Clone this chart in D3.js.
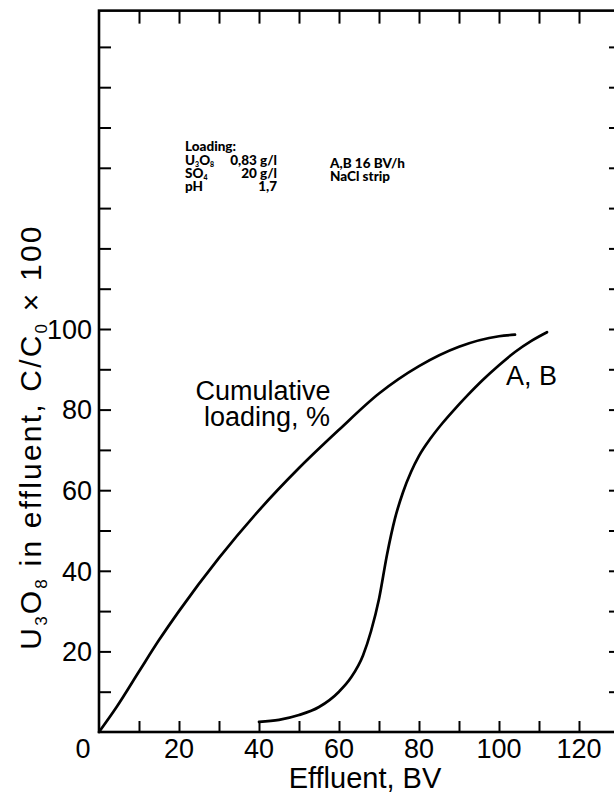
<!DOCTYPE html>
<html>
<head>
<meta charset="utf-8">
<script src="https://cdn.jsdelivr.net/npm/d3@7"></script>
<style>
  html, body { margin: 0; padding: 0; background: #fff; }
  svg { display: block; }
</style>
</head>
<body>
<svg id="chart" width="614" height="798"></svg>
<script>
// Cumulative loading, % versus effluent volume (BV)
const cumulativeBV  = [0, 4.4, 10, 15, 20, 30, 40, 50, 60, 70, 80, 90, 100, 104];
const cumulativePct = [0, 6.2, 15, 22.8, 30, 43.2, 55, 65.5, 75, 84, 90.8, 95.6, 98.2, 98.6];

// U3O8 breakthrough, columns A and B (C/C0 x 100)
const breakthroughBV  = [40, 45, 50, 55, 60, 63, 66, 68, 70, 72, 74, 76, 78, 80, 83, 86, 89, 92, 96, 100, 104, 108, 112];
const breakthroughPct = [2.5, 3, 4.2, 6.2, 10, 13.5, 19, 25, 33, 44, 53, 59.5, 64.5, 68.5, 73, 76.8, 80.2, 83.4, 87.4, 91, 94.3, 97, 99.2];

// Axis ticks and labels
const xTickLabels = [0, 20, 40, 60, 80, 100, 120];
const yTickLabels = [20, 40, 60, 80, 100];
const xMinorTicks = [10, 20, 30, 40, 50, 60, 70, 80, 90, 100, 110, 120, 130];
const yMinorTicks = [10, 20, 30, 40, 50, 60, 70, 80, 90, 100, 110, 120, 130, 140, 150, 160, 170];

const xDomain = [0, 130];
const yDomain = [0, 179];

const svg = d3.select("#chart");
const font = "'Liberation Sans', Arial, Helvetica, sans-serif";

const x = d3.scaleLinear().domain(xDomain).range([99, 619]);
const y = d3.scaleLinear().domain(yDomain).range([732, 732 - 179 * 4.03]);

// Frame
svg.append("rect")
  .attr("x", x(xDomain[0])).attr("y", y(yDomain[1]))
  .attr("width", x(xDomain[1]) - x(xDomain[0]))
  .attr("height", y(yDomain[0]) - y(yDomain[1]))
  .attr("fill", "none").attr("stroke", "#000").attr("stroke-width", 2.6);

// Inward-pointing ticks on all four sides
function ticks(axis, transform, size) {
  const g = svg.append("g").attr("transform", transform)
    .call(axis.tickSize(size).tickFormat(""));
  g.select(".domain").remove();
  g.selectAll(".tick line").attr("stroke", "#000").attr("stroke-width", 2);
  return g;
}
ticks(d3.axisTop(x).tickValues(xMinorTicks), `translate(0,${y(0)})`, 11);
ticks(d3.axisBottom(x).tickValues(xMinorTicks), `translate(0,${y(yDomain[1])})`, 13);
ticks(d3.axisRight(y).tickValues(yMinorTicks), `translate(${x(0)},0)`, 12);
ticks(d3.axisLeft(y).tickValues(yMinorTicks), `translate(${x(xDomain[1])},0)`, 10);

// Tick labels
svg.append("g").selectAll("text").data(xTickLabels).join("text")
  .attr("x", d => d === 0 ? x(d) - 16 : x(d))
  .attr("y", 758)
  .attr("text-anchor", "middle")
  .attr("font-family", font).attr("font-size", 27)
  .text(d => d);

svg.append("g").selectAll("text").data(yTickLabels).join("text")
  .attr("x", x(0) - 7)
  .attr("y", d => y(d))
  .attr("dy", "0.36em")
  .attr("text-anchor", "end")
  .attr("font-family", font).attr("font-size", 27)
  .text(d => d);

// Axis titles
svg.append("text")
  .attr("x", 365).attr("y", 788)
  .attr("text-anchor", "middle")
  .attr("font-family", font).attr("font-size", 29)
  .text("Effluent, BV");

const yTitle = svg.append("text")
  .attr("transform", "translate(41,437) rotate(-90)")
  .attr("text-anchor", "middle")
  .attr("letter-spacing", 2.2)
  .attr("font-family", font).attr("font-size", 30);
yTitle.append("tspan").text("U");
yTitle.append("tspan").attr("font-size", 17).attr("dy", 6).text("3");
yTitle.append("tspan").attr("dy", -6).text("O");
yTitle.append("tspan").attr("font-size", 17).attr("dy", 6).text("8");
yTitle.append("tspan").attr("dy", -6).text(" in effluent, C/C");
yTitle.append("tspan").attr("font-size", 17).attr("dy", 6).text("0");
yTitle.append("tspan").attr("dy", -6).text(" × 100");

// Curves
const line = d3.line().x(d => x(d[0])).y(d => y(d[1])).curve(d3.curveMonotoneX);
const cumulative = cumulativeBV.map((v, i) => [v, cumulativePct[i]]);
const breakthrough = breakthroughBV.map((v, i) => [v, breakthroughPct[i]]);

svg.append("path").datum(cumulative).attr("d", line)
  .attr("fill", "none").attr("stroke", "#000").attr("stroke-width", 2.7)
  .attr("stroke-linecap", "round");
svg.append("path").datum(breakthrough).attr("d", line)
  .attr("fill", "none").attr("stroke", "#000").attr("stroke-width", 2.7)
  .attr("stroke-linecap", "round");

// Curve labels
const curveLabel = svg.append("text")
  .attr("font-family", font).attr("font-size", 27).attr("text-anchor", "middle");
curveLabel.append("tspan").attr("x", 263).attr("y", 400).text("Cumulative");
curveLabel.append("tspan").attr("x", 267).attr("y", 426).text("loading, %");

svg.append("text")
  .attr("x", 506).attr("y", 385)
  .attr("font-family", font).attr("font-size", 27)
  .text("A, B");

// Experimental conditions
const note = svg.append("g")
  .attr("font-family", "Lato, 'Open Sans', sans-serif")
  .attr("font-weight", 900).attr("font-size", 13.5);

note.append("text").attr("x", 185).attr("y", 151).text("Loading:");

const u3o8 = note.append("text").attr("x", 185).attr("y", 165);
u3o8.append("tspan").text("U");
u3o8.append("tspan").attr("font-size", 7).attr("dy", 2).text("3");
u3o8.append("tspan").attr("dy", -2).text("O");
u3o8.append("tspan").attr("font-size", 7).attr("dy", 2).text("8");

const so4 = note.append("text").attr("x", 185).attr("y", 178);
so4.append("tspan").text("SO");
so4.append("tspan").attr("font-size", 7).attr("dy", 2).text("4");

note.append("text").attr("x", 185).attr("y", 191).text("pH");

note.append("g").attr("text-anchor", "end").selectAll("text")
  .data([["0,83 g/l", 165], ["20 g/l", 178], ["1,7", 191]]).join("text")
  .attr("x", 277).attr("y", d => d[1]).text(d => d[0]);

note.append("text").attr("x", 330).attr("y", 168).text("A,B 16 BV/h");
note.append("text").attr("x", 330).attr("y", 181).text("NaCl strip");
</script>
</body>
</html>
